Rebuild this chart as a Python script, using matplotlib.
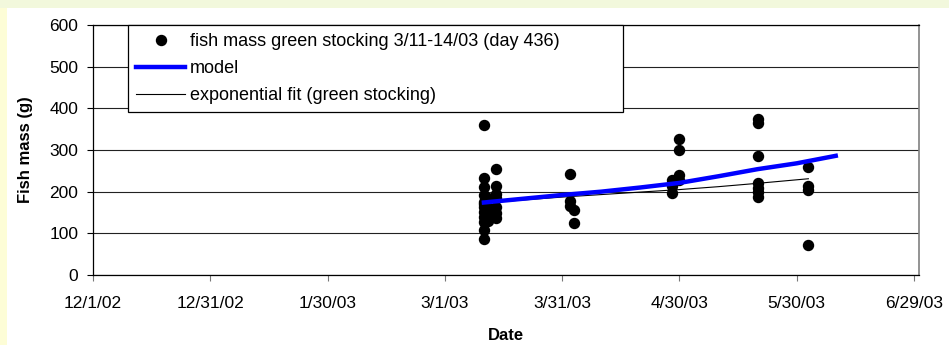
import datetime as dt
import matplotlib
matplotlib.use("Agg")
import matplotlib.pyplot as plt
import matplotlib.dates as mdates
from matplotlib.patches import Rectangle

plt.rcParams['font.family'] = ['Liberation Sans', 'DejaVu Sans']

D = dt.date

# --- observed fish mass (green stocking) ---
obs_dates = ([D(2003, 3, 11)] * 12 + [D(2003, 3, 12)] * 4 + [D(2003, 3, 14)] * 7
             + [D(2003, 4, 2)] * 3 + [D(2003, 4, 3)] * 2
             + [D(2003, 4, 28)] * 3 + [D(2003, 4, 30)] * 4
             + [D(2003, 5, 20)] * 7 + [D(2003, 6, 2)] * 4)
obs_mass = [360, 234, 212, 192, 176, 164, 152, 140, 128, 108, 86, 170,
            185, 160, 145, 130,
            255, 214, 184, 164, 138, 195, 150,
            242, 178, 165,
            155, 125,
            228, 214, 196,
            326, 301, 241, 228,
            374, 366, 286, 222, 210, 200, 188,
            260, 214, 204, 72]

# --- model ---
model_dates = [D(2003, 3, 11), D(2003, 3, 21), D(2003, 3, 31), D(2003, 4, 10),
               D(2003, 4, 20), D(2003, 4, 30), D(2003, 5, 10), D(2003, 5, 20),
               D(2003, 5, 30), D(2003, 6, 9)]
model_mass = [174, 183, 192, 200, 210, 221, 237, 254, 268, 286]

# --- exponential fit ---
fit_dates = [D(2003, 3, 11), D(2003, 3, 21), D(2003, 3, 31), D(2003, 4, 10),
             D(2003, 4, 20), D(2003, 4, 30), D(2003, 5, 10), D(2003, 5, 20),
             D(2003, 6, 2)]
fit_mass = [173, 180, 187, 193, 199, 205, 212, 220, 231]

tick_dates = [D(2002, 12, 1), D(2002, 12, 31), D(2003, 1, 30), D(2003, 3, 1),
              D(2003, 3, 31), D(2003, 4, 30), D(2003, 5, 30), D(2003, 6, 29)]
tick_labels = ['12/1/02', '12/31/02', '1/30/03', '3/1/03', '3/31/03',
               '4/30/03', '5/30/03', '6/29/03']

fig = plt.figure(figsize=(9.49, 3.45), dpi=100)
fig.patch.set_facecolor('white')
# outer page colour bands
fig.patches.append(Rectangle((0, 1 - 8 / 345), 1, 8 / 345, transform=fig.transFigure,
                             facecolor='#F2F8DC', edgecolor='none', zorder=0))
fig.patches.append(Rectangle((0, 0), 7 / 949, 1 - 8 / 345, transform=fig.transFigure,
                             facecolor='#FDFDD6', edgecolor='none', zorder=0))

ax = fig.add_axes([93 / 949, 1 - 275 / 345, 826 / 949, 250 / 345])

ax.plot(obs_dates, obs_mass, 'o', color='black', markersize=7.2, zorder=3,
        label='fish mass green stocking 3/11-14/03 (day 436)')
ax.plot(model_dates, model_mass, '-', color='#0000FF', linewidth=3.2, zorder=4,
        label='model')
ax.plot(fit_dates, fit_mass, '-', color='black', linewidth=0.8, zorder=3,
        label='exponential fit (green stocking)')

ax.set_xlim(mdates.date2num(D(2002, 12, 1)), mdates.date2num(D(2003, 6, 30)) + 0.3)
ax.set_ylim(0, 600)
ax.set_yticks(range(0, 601, 100))
ax.set_xticks([mdates.date2num(d) for d in tick_dates])
ax.set_xticklabels(tick_labels)

ax.yaxis.grid(True, color='#222222', linewidth=0.8)
ax.set_axisbelow(True)
ax.tick_params(axis='y', direction='out', length=4.5, width=0.8, pad=6, labelsize=12.5)
ax.tick_params(axis='x', direction='out', length=4, width=0.8, pad=11, labelsize=12.5,
               color='#777777')
for s in ['left', 'bottom', 'top']:
    ax.spines[s].set_color('black')
    ax.spines[s].set_linewidth(0.9)
ax.spines['right'].set_color('#808080')
ax.spines['right'].set_linewidth(1.2)

ax.set_ylabel('Fish mass (g)', fontsize=12, fontweight='bold', labelpad=12)
ax.set_xlabel('Date', fontsize=12, fontweight='bold', labelpad=12)

leg = ax.legend(loc='upper left', bbox_to_anchor=(35 / 826, 0.0, 495 / 826, 1.0),
                mode='expand', borderaxespad=0, fancybox=False, framealpha=1,
                edgecolor='black', fontsize=13, numpoints=1, handlelength=2.7,
                handletextpad=0.3, borderpad=0.45, labelspacing=0.55)
leg.get_frame().set_linewidth(0.9)

fig.savefig('out.png', dpi=100)
